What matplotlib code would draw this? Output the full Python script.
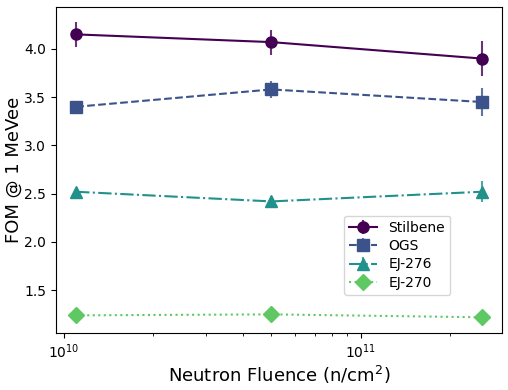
import matplotlib
matplotlib.use('Agg')
import matplotlib.pyplot as plt
import numpy as np

fluence = [1.1e10, 5.0e10, 2.55e11]

labels = ['Stilbene', 'OGS', 'EJ-276', 'EJ-270']
fom = [
    [4.15, 4.07, 3.90],
    [3.40, 3.58, 3.45],
    [2.52, 2.42, 2.52],
    [1.24, 1.25, 1.22],
]
fom_err = [
    [0.13, 0.13, 0.18],
    [0.03, 0.09, 0.145],
    [0.03, 0.06, 0.11],
    [0.01, 0.01, 0.01],
]

colors = ['#440154', '#3b528b', '#21918c', '#5ec962']
markers = ['o', 's', '^', 'D']
styles = ['-', '--', '-.', ':']

fig = plt.figure(figsize=(5.08, 3.9), dpi=100)
ax = fig.add_axes([0.110, 0.146, 0.878, 0.836])

for i in range(len(labels)):
    cont = ax.errorbar(fluence, fom[i], yerr=fom_err[i], color=colors[i], marker=markers[i],
                       linestyle=styles[i], markersize=8, elinewidth=1.5, label=labels[i])
    for bar in cont[2]:
        bar.set_alpha(0.8)

ax.set_xscale('log')
ax.set_xlabel('Neutron Fluence (n/cm$^2$)', fontsize=13, labelpad=2)
ax.set_ylabel('FOM @ 1 MeVee', fontsize=13, labelpad=1)
ax.tick_params(labelsize=10)
ax.legend(fontsize=10, loc='lower left', bbox_to_anchor=(0.63, 0.095), labelspacing=0.3)

fig.savefig('out.png', dpi=100)
